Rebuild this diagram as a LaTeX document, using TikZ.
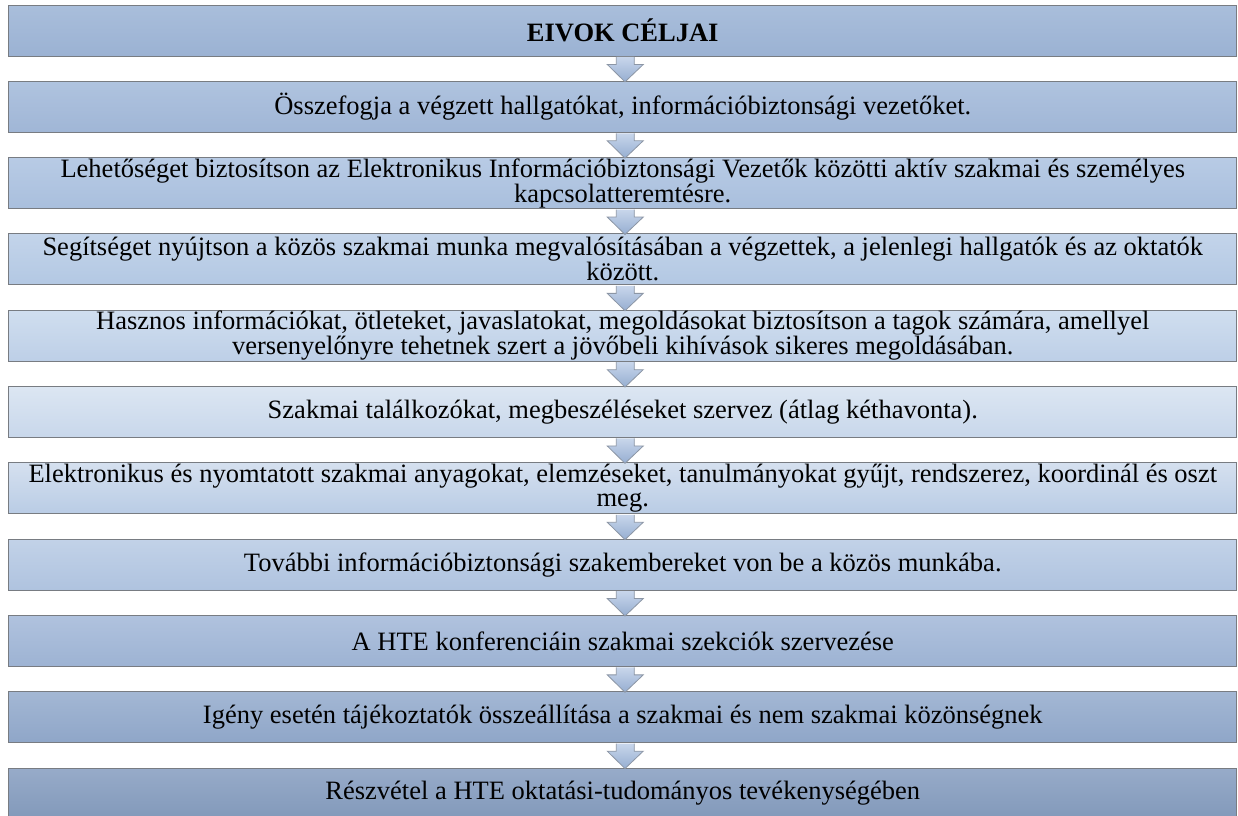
\documentclass[tikz,border=0pt]{standalone}
\usepackage{fontspec}
\setmainfont{Liberation Serif}
\usetikzlibrary{calc}
\definecolor{boxline}{RGB}{120,124,130}
\definecolor{arrline}{RGB}{140,150,165}
\definecolor{arrtop}{RGB}{200,214,235}
\definecolor{arrbot}{RGB}{150,174,209}
\definecolor{ct1}{HTML}{A9BEDB}\definecolor{cb1}{HTML}{9BB2D3}
\definecolor{ct2}{HTML}{AFC3DF}\definecolor{cb2}{HTML}{A0B6D6}
\definecolor{ct3}{HTML}{B8CBE5}\definecolor{cb3}{HTML}{A9BFDD}
\definecolor{ct4}{HTML}{C3D4EA}\definecolor{cb4}{HTML}{B3C8E3}
\definecolor{ct5}{HTML}{D0DEEF}\definecolor{cb5}{HTML}{BDCFE7}
\definecolor{ct6}{HTML}{DCE6F2}\definecolor{cb6}{HTML}{C8D7EB}
\definecolor{ct7}{HTML}{D5E0EF}\definecolor{cb7}{HTML}{B9CCE5}
\definecolor{ct8}{HTML}{C2D2E8}\definecolor{cb8}{HTML}{AFC3DF}
\definecolor{ct9}{HTML}{B0C2DE}\definecolor{cb9}{HTML}{9DB3D3}
\definecolor{ct10}{HTML}{A3B7D4}\definecolor{cb10}{HTML}{8FA6C8}
\definecolor{ct11}{HTML}{97ABC9}\definecolor{cb11}{HTML}{8299BA}
\begin{document}
\begin{tikzpicture}[x=1pt,y=-1pt,
  box/.style={draw=boxline, line width=0.9pt, minimum width=1228pt, minimum height=51pt,
    inner sep=0pt, align=center, font=\fontsize{26.5}{24}\selectfont, text=black},
  arr/.style={draw=arrline, line width=0.8pt, top color=arrtop, bottom color=arrbot}]
\clip (0,0) rectangle (1238,815);
\fill[white] (0,0) rectangle (1238,815);
\node[box, top color=ct1, bottom color=cb1] (b1) at (622.75,30.5) {\textbf{EIVOK CÉLJAI}};
\node[box, top color=ct2, bottom color=cb2] (b2) at (622.75,106.8) {Összefogja a végzett hallgatókat, információbiztonsági vezetőket.};
\node[box, top color=ct3, bottom color=cb3] (b3) at (622.75,183.1) {Lehetőséget biztosítson az Elektronikus Információbiztonsági Vezetők közötti aktív szakmai és személyes\\kapcsolatteremtésre.};
\node[box, top color=ct4, bottom color=cb4] (b4) at (622.75,259.4) {Segítséget nyújtson a közös szakmai munka megvalósításában a végzettek, a jelenlegi hallgatók és az oktatók\\között.};
\node[box, top color=ct5, bottom color=cb5] (b5) at (622.75,335.7) {Hasznos információkat, ötleteket, javaslatokat, megoldásokat biztosítson a tagok számára, amellyel\\versenyelőnyre tehetnek szert a jövőbeli kihívások sikeres megoldásában.};
\node[box, top color=ct6, bottom color=cb6] (b6) at (622.75,412.0) {Szakmai találkozókat, megbeszéléseket szervez (átlag kéthavonta).};
\node[box, top color=ct7, bottom color=cb7] (b7) at (622.75,488.3) {Elektronikus és nyomtatott szakmai anyagokat, elemzéseket, tanulmányokat gyűjt, rendszerez, koordinál és oszt\\meg.};
\node[box, top color=ct8, bottom color=cb8] (b8) at (622.75,564.6) {További információbiztonsági szakembereket von be a közös munkába.};
\node[box, top color=ct9, bottom color=cb9] (b9) at (622.75,640.9) {A HTE konferenciáin szakmai szekciók szervezése};
\node[box, top color=ct10, bottom color=cb10] (b10) at (622.75,717.2) {Igény esetén tájékoztatók összeállítása a szakmai és nem szakmai közönségnek};
\node[box, top color=ct11, bottom color=cb11] (b11) at (622.75,793.5) {Részvétel a HTE oktatási-tudományos tevékenységében};
\foreach \i [evaluate=\i as \j using int(\i+1)] in {1,...,10}{
  \draw[arr] ($(b\i.south)+(-6.5,0.5)$) -- ($(b\i.south)+(-6.5,8)$) -- ($(b\i.south)+(-15.5,8)$)
    -- ($(b\j.north)+(2.25,1)$) -- ($(b\i.south)+(20.5,8)$) -- ($(b\i.south)+(11.5,8)$)
    -- ($(b\i.south)+(11.5,0.5)$);
}
\end{tikzpicture}
\end{document}
